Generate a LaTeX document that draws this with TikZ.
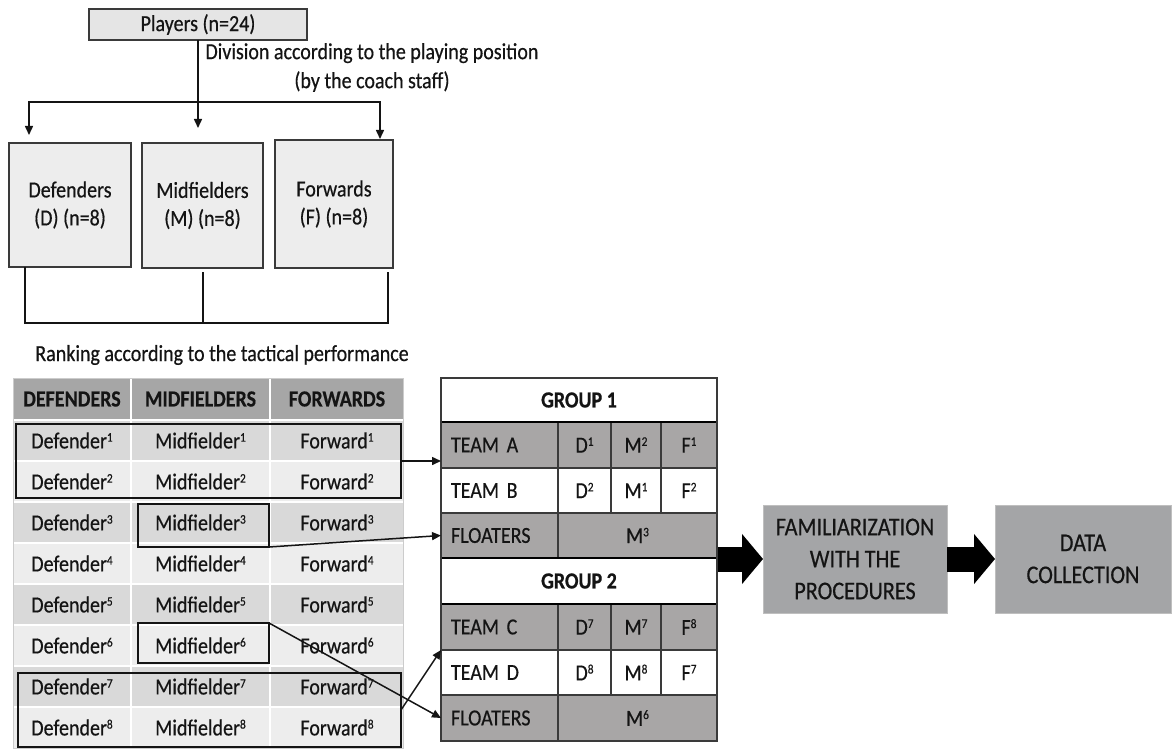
\documentclass[tikz,border=0pt]{standalone}
\usepackage{fontspec}
\setmainfont{Carlito}[FakeStretch=0.87,FakeBold=0.5]
\usetikzlibrary{arrows.meta,calc}
\definecolor{boxgray}{HTML}{EDEDED}
\definecolor{hdrgray}{HTML}{A6A6A6}
\definecolor{rowdark}{HTML}{D9D9D9}
\definecolor{rowlight}{HTML}{EDEDED}
\definecolor{tgray}{HTML}{A8A6A6}
\definecolor{linegray}{HTML}{3A3A3A}
\definecolor{procgray}{HTML}{A4A5A7}
\definecolor{ink}{HTML}{141414}
\newcommand{\sups}[1]{\raisebox{0.62ex}{\fontsize{13}{13}\selectfont #1}}
\begin{document}
\begin{tikzpicture}[x=1pt,y=-1pt,
  txt/.style={font=\fontsize{23}{28}\selectfont, inner sep=0pt, text=ink},
  btxt/.style={font=\bfseries\fontsize{23}{26}\selectfont, inner sep=0pt, text=ink},
  topbox/.style={draw=linegray, line width=1.4pt, fill=boxgray, inner sep=0pt, outer sep=0pt, align=center, font=\fontsize{23}{28}\selectfont, text=ink},
  conn/.style={draw=ink, line width=1.6pt},
  arrow/.style={draw=ink, line width=1.5pt, -{Triangle[length=9pt,width=8pt]}},
  blackrect/.style={draw=ink, line width=2pt, inner sep=0pt, outer sep=0pt},
  gcell/.style={draw=linegray, line width=1.2pt, inner sep=0pt, outer sep=0pt, font=\fontsize{23}{26}\selectfont, text=ink},
  glabel/.style={gcell, minimum width=117pt, text width=97pt, inner xsep=10pt, align=left},
  procbox/.style={draw=black!25, line width=1pt, fill=procgray, inner sep=0pt, outer sep=0pt, align=center, font=\fontsize{25.5}{32}\selectfont, text=ink},
  bigarr/.style={draw=black, line width=25pt, -{Triangle[length=21pt,width=49pt]}}
]
\useasboundingbox (0,0) rectangle (1172,749);

% ---------- top part ----------
\node[topbox, fill=black!10, minimum width=218pt, minimum height=31pt] (players) at (198,24.5) {Players (n=24)};
\node[txt, align=center, font=\fontsize{23}{29}\selectfont] (division) at (372,67.5) {Division according to the playing position\\(by the coach staff)};

\node[topbox, minimum width=122pt, minimum height=124pt] (def) at (70,205) {Defenders\\(D) (n=8)};
\node[topbox, minimum width=121pt, minimum height=125pt] (mid) at (202.5,205.5) {Midfielders\\(M) (n=8)};
\node[topbox, minimum width=118pt, minimum height=128pt] (fwd) at (334,204) {Forwards\\(F) (n=8)};

\coordinate (hub) at (198,102);
\coordinate (midtip) at (198,128);
\coordinate (ltip) at (29,135);
\coordinate (rtip) at (380,139);
\draw[arrow] (players.south) -- (midtip);
\draw[arrow] (hub) -| (ltip);
\draw[arrow] (hub) -| (rtip);

\coordinate (bl) at (25,323);
\coordinate (br) at (388,323);
\coordinate (mbot) at (203,272);
\coordinate (fbot) at (388,272);
\draw[conn] (def.south -| bl) -- (bl) -- (br) -- (fbot);
\draw[conn] (mbot) -- (mbot |- bl);

\node[txt] (ranking) at (222,355) {Ranking according to the tactical performance};

% ---------- ranking table ----------
\fill[hdrgray] (13,378) rectangle (403,420);
\draw[white, line width=2pt] (131,378) -- (131,420) (270,378) -- (270,420);
\node[btxt] (hd) at (72,399) {DEFENDERS};
\node[btxt] (hm) at (200.5,399) {MIDFIELDERS};
\node[btxt] (hf) at (337,399) {FORWARDS};
\foreach \i/\c in {1/rowdark,2/rowlight,3/rowdark,4/rowlight,5/rowdark,6/rowlight,7/rowdark,8/rowlight}{
  \pgfmathsetmacro\yt{420+41*(\i-1)}
  \pgfmathsetmacro\yc{\yt+20.5}
  \fill[\c] (13,\yt) rectangle (403,\yt+41);
  \draw[white, line width=2pt] (13,\yt) -- (403,\yt) (131,\yt) -- (131,\yt+41) (270,\yt) -- (270,\yt+41);
  \node[txt] (d\i) at (72,\yc) {Defender\sups{\i}};
  \node[txt] (m\i) at (200.5,\yc) {Midfielder\sups{\i}};
  \node[txt] (f\i) at (337,\yc) {Forward\sups{\i}};
}
\draw[black!20, line width=0.8pt] (13,378) rectangle (403,748);

\node[blackrect, minimum width=385pt, minimum height=74pt] (rA) at (208.5,461) {};
\node[blackrect, minimum width=131pt, minimum height=43pt] (rM3) at (203.5,525.5) {};
\node[blackrect, minimum width=131pt, minimum height=40pt] (rM6) at (203.5,643) {};
\node[blackrect, minimum width=383pt, minimum height=74pt] (rB) at (209.5,710) {};

% ---------- group table ----------
\node[gcell, fill=white, minimum width=276pt, minimum height=44pt, font=\bfseries\fontsize{23}{26}\selectfont] (g1) at (579,400) {GROUP 1};
\node[glabel, fill=tgray, minimum height=46pt] (teamA) at (499.5,445) {TEAM A};
\node[gcell, fill=tgray, minimum width=53pt, minimum height=46pt] (tAd) at (584.5,445) {D\sups{1}};
\node[gcell, fill=tgray, minimum width=50pt, minimum height=46pt] (tAm) at (636,445) {M\sups{2}};
\node[gcell, fill=tgray, minimum width=56pt, minimum height=46pt] (tAf) at (689,445) {F\sups{1}};
\node[glabel, fill=white, minimum height=45pt] (teamB) at (499.5,490.5) {TEAM B};
\node[gcell, fill=white, minimum width=53pt, minimum height=45pt] (tBd) at (584.5,490.5) {D\sups{2}};
\node[gcell, fill=white, minimum width=50pt, minimum height=45pt] (tBm) at (636,490.5) {M\sups{1}};
\node[gcell, fill=white, minimum width=56pt, minimum height=45pt] (tBf) at (689,490.5) {F\sups{2}};
\node[glabel, fill=tgray, minimum height=45pt] (fl1) at (499.5,535.5) {FLOATERS};
\node[gcell, fill=tgray, minimum width=159pt, minimum height=45pt] (fl1m) at (637.5,535.5) {M\sups{3}};

\node[gcell, fill=white, minimum width=276pt, minimum height=46pt, font=\bfseries\fontsize{23}{26}\selectfont] (g2) at (579,581) {GROUP 2};
\node[glabel, fill=tgray, minimum height=46pt] (teamC) at (499.5,627) {TEAM C};
\node[gcell, fill=tgray, minimum width=53pt, minimum height=46pt] (tCd) at (584.5,627) {D\sups{7}};
\node[gcell, fill=tgray, minimum width=50pt, minimum height=46pt] (tCm) at (636,627) {M\sups{7}};
\node[gcell, fill=tgray, minimum width=56pt, minimum height=46pt] (tCf) at (689,627) {F\sups{8}};
\node[glabel, fill=white, minimum height=45pt] (teamD) at (499.5,672.5) {TEAM D};
\node[gcell, fill=white, minimum width=53pt, minimum height=45pt] (tDd) at (584.5,672.5) {D\sups{8}};
\node[gcell, fill=white, minimum width=50pt, minimum height=45pt] (tDm) at (636,672.5) {M\sups{8}};
\node[gcell, fill=white, minimum width=56pt, minimum height=45pt] (tDf) at (689,672.5) {F\sups{7}};
\node[glabel, fill=tgray, minimum height=46pt] (fl2) at (499.5,718) {FLOATERS};
\node[gcell, fill=tgray, minimum width=159pt, minimum height=46pt] (fl2m) at (637.5,718) {M\sups{6}};

\draw[black, line width=2.4pt] (g1.south west) -- (g1.south east);
\draw[black, line width=2.4pt] (g2.north west) -- (g2.north east);
\draw[black, line width=2pt] (g2.south west) -- (g2.south east);
\draw[linegray, line width=1.5pt] (g1.north west) rectangle (fl2m.south east);

% ---------- connectors from ranking table ----------
\draw[arrow] (rA.east) -- (rA.east -| teamA.west);
\draw[arrow] (rM3.south east) -- (fl1.west);
\draw[arrow] (rM6.north east) -- (fl2.west);
\draw[arrow] (rB.east) -- (teamD.north west);

% ---------- process boxes ----------
\node[procbox, minimum width=184pt, minimum height=108pt] (fam) at (855,559) {FAMILIARIZATION\\WITH THE\\PROCEDURES};
\node[procbox, minimum width=176pt, minimum height=108pt] (data) at (1083,559) {DATA\\COLLECTION};
\coordinate (gright) at (718,559);
\draw[bigarr] (gright) -- (fam.west);
\draw[bigarr] (fam.east) -- (data.west);
\end{tikzpicture}
\end{document}
